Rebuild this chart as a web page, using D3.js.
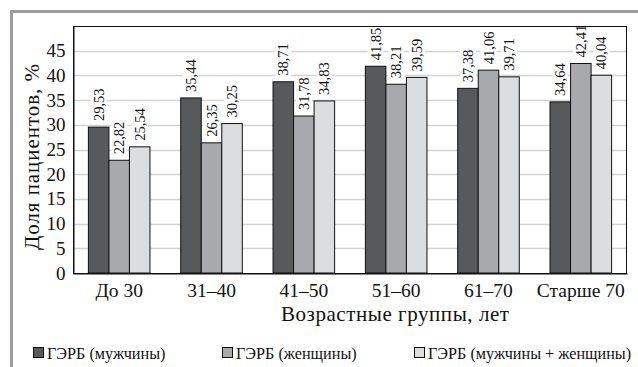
<!DOCTYPE html>
<html>
<head>
<meta charset="utf-8">
<script src="https://cdn.jsdelivr.net/npm/d3@7/dist/d3.min.js"></script>
<style>
  html, body { margin: 0; padding: 0; background: #fff; }
  svg { display: block; }
</style>
</head>
<body>
<svg id="chart" width="638" height="367" style="font-family:'Liberation Serif', Tinos, 'Times New Roman', serif"></svg>
<script>
// Age groups and shares of patients with GERD, %
const categories = ["До 30", "31–40", "41–50", "51–60", "61–70", "Старше 70"];
const seriesNames = ["ГЭРБ (мужчины)", "ГЭРБ (женщины)", "ГЭРБ (мужчины + женщины)"];
const men   = [29.53, 35.44, 38.71, 41.85, 37.38, 34.64];
const women = [22.82, 26.35, 31.78, 38.21, 41.06, 42.41];
const both  = [25.54, 30.25, 34.83, 39.59, 39.71, 40.04];
const yTicks = [0, 5, 10, 15, 20, 25, 30, 35, 40, 45];
const colors = ["#58595b", "#a7a9ac", "#dcdddf"];

(function () {
const FONT = "'Liberation Serif', Tinos, 'Times New Roman', serif";
const series = [men, women, both];
const fmt = v => v.toFixed(2).replace(".", ",");

const svg = d3.select("#chart");
const pl = 73, pr = 627, pt = 26, pb = 273;

// outer frame
svg.append("path")
  .attr("d", `M11.5,367 V11.5 H638`)
  .attr("fill", "none").attr("stroke", "#9d9d9d").attr("stroke-width", 3);

const x0 = d3.scaleBand().domain(categories).range([pl, pr])
  .paddingInner(0.333).paddingOuter(0.1667);
const x1 = d3.scaleBand().domain(d3.range(3)).range([0, x0.bandwidth()]);
const y = d3.scaleLinear().domain([0, 50]).range([pb, pt]);

// horizontal grid
svg.append("g").selectAll("line").data(yTicks.filter(t => t > 0)).join("line")
  .attr("x1", pl).attr("x2", pr)
  .attr("y1", d => Math.round(y(d)) + 0.5).attr("y2", d => Math.round(y(d)) + 0.5)
  .attr("stroke", "#d3d3d3").attr("stroke-width", 1.5);

// bars
const groups = svg.append("g").selectAll("g").data(categories).join("g")
  .attr("transform", d => `translate(${x0(d)},0)`);

groups.selectAll("rect").data((c, i) => series.map((s, k) => ({ k, v: s[i] }))).join("rect")
  .attr("x", d => x1(d.k))
  .attr("width", x1.bandwidth())
  .attr("y", d => y(d.v))
  .attr("height", d => pb - y(d.v))
  .attr("fill", d => colors[d.k])
  .attr("stroke", "#111").attr("stroke-width", 1);

// value labels, rotated, with white backing
const labels = groups.selectAll("g.lbl").data((c, i) => series.map((s, k) => ({ k, v: s[i] }))).join("g")
  .attr("class", "lbl")
  .attr("transform", d => `translate(${x1(d.k) + x1.bandwidth() / 2},${y(d.v) - 6}) rotate(-90)`);
labels.append("rect").attr("fill", "#fff");
labels.append("text")
  .attr("dy", "0.35em")
  .style("font-family", FONT).style("font-size", "14.5px").style("fill", "#111")
  .text(d => fmt(d.v));
labels.each(function () {
  const g = d3.select(this);
  const b = g.select("text").node().getBBox();
  g.select("rect").attr("x", b.x - 1).attr("y", b.y).attr("width", b.width + 2).attr("height", b.height);
});

// plot frame
svg.append("rect")
  .attr("x", pl + 0.5).attr("y", pt + 0.5)
  .attr("width", pr - pl - 1).attr("height", pb - pt)
  .attr("fill", "none").attr("stroke", "#111").attr("stroke-width", 1);

// y axis
const yAxis = svg.append("g").attr("transform", `translate(${pl + 0.5},0)`)
  .call(d3.axisLeft(y).tickValues(yTicks).tickSize(0).tickPadding(8))
  .attr("font-family", null).attr("font-size", null);
yAxis.select(".domain").attr("stroke", "#111");
yAxis.selectAll("text").style("font-size", "19px").style("font-family", FONT).style("fill", "#111");

// x axis
const xAxis = svg.append("g").attr("transform", `translate(0,${pb + 0.5})`)
  .call(d3.axisBottom(x0).tickSize(0).tickPadding(10))
  .attr("font-family", null).attr("font-size", null);
xAxis.select(".domain").attr("stroke", "#111");
xAxis.selectAll("text").style("font-size", "19.5px").style("font-family", FONT).style("fill", "#111");

// axis titles
svg.append("text")
  .attr("x", 281).attr("y", 321)
  .attr("textLength", 228).attr("lengthAdjust", "spacing")
  .style("font-family", FONT).style("font-size", "21px").style("fill", "#111")
  .text("Возрастные группы, лет");
svg.append("text")
  .attr("transform", `translate(39,250) rotate(-90)`)
  .attr("textLength", 186).attr("lengthAdjust", "spacing")
  .style("font-family", FONT).style("font-size", "21px").style("fill", "#111")
  .text("Доля пациентов, %");

// legend
const legendX = [33, 222, 414];
const lg = svg.append("g").selectAll("g").data(seriesNames).join("g")
  .attr("transform", (d, i) => `translate(${legendX[i]},347)`);
lg.append("rect").attr("x", 0.5).attr("y", 0.5).attr("width", 10).attr("height", 10)
  .attr("fill", (d, i) => colors[i]).attr("stroke", "#111").attr("stroke-width", 1);
lg.append("text").attr("x", 14).attr("y", 11.5)
  .style("font-family", FONT).style("font-size", "16.2px").style("fill", "#111")
  .text(d => d);
})();
</script>
</body>
</html>
